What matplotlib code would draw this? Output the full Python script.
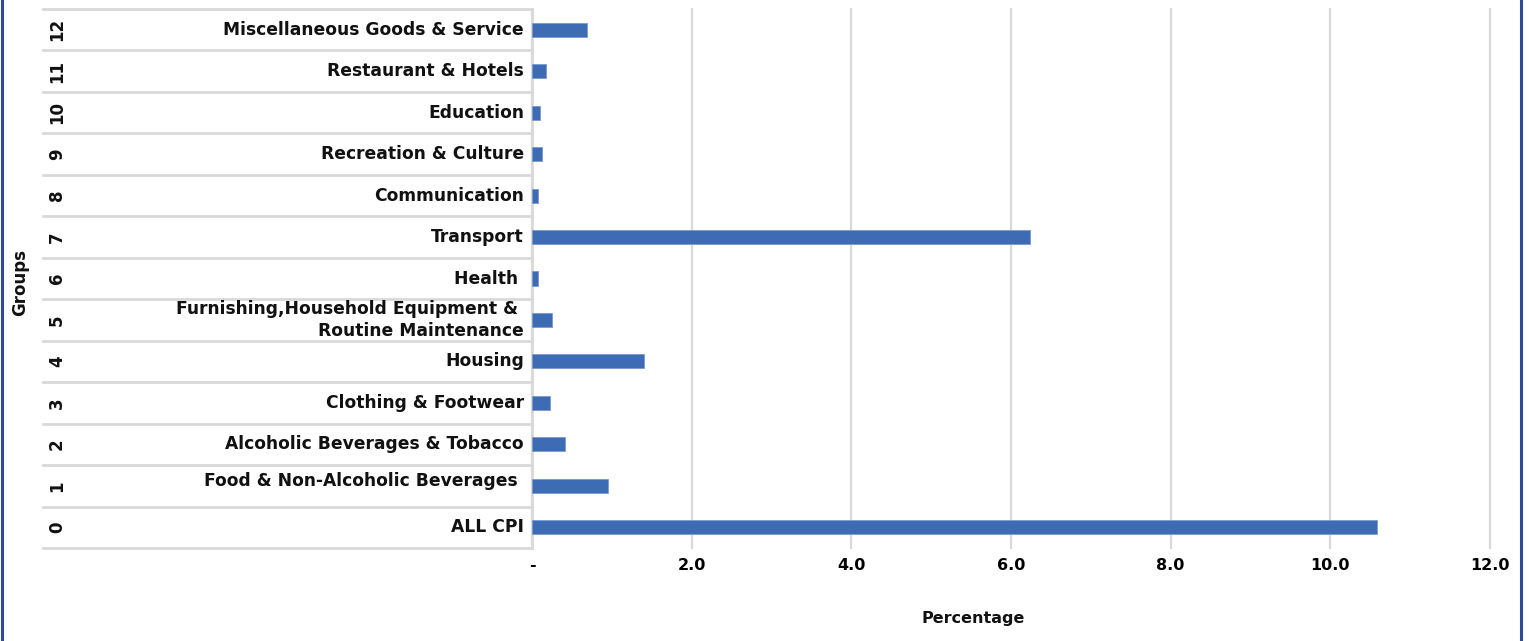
import matplotlib
matplotlib.use("Agg")
import matplotlib.pyplot as plt
from matplotlib.lines import Line2D
from matplotlib.transforms import blended_transform_factory
from matplotlib.ticker import FuncFormatter

# CPI group contributions (percentage), group 0 = ALL CPI
group_ids = [0, 1, 2, 3, 4, 5, 6, 7, 8, 9, 10, 11, 12]
group_names = [
    "ALL CPI",
    "Food & Non-Alcoholic Beverages ",
    "Alcoholic Beverages & Tobacco",
    "Clothing & Footwear",
    "Housing",
    "Furnishing,Household Equipment & \nRoutine Maintenance",
    "Health ",
    "Transport",
    "Communication",
    "Recreation & Culture",
    "Education",
    "Restaurant & Hotels",
    "Miscellaneous Goods & Service",
]
values = [10.59, 0.95, 0.41, 0.23, 1.40, 0.25, 0.08, 6.24, 0.08, 0.12, 0.10, 0.18, 0.69]
x_ticks = [0, 2, 4, 6, 8, 10, 12]

W, H = 1529, 641
fig = plt.figure(figsize=(W / 100, H / 100), dpi=100)
fig.patch.set_facecolor("white")

left_px, right_px, top_px, bot_px = 532, 1490, 9, 548
ax = fig.add_axes([left_px / W, 1 - bot_px / H, (right_px - left_px) / W, (bot_px - top_px) / H])

grid_c = "#D9D9D9"
bar_c = "#3D6CB4"

ax.barh(group_ids, values, height=0.34, color=bar_c, edgecolor="#7A9BD3", linewidth=0.6, zorder=3)

ax.set_xlim(0, 12)
ax.set_ylim(-0.5, len(group_ids) - 0.5)
ax.set_xticks(x_ticks)
ax.xaxis.set_major_formatter(FuncFormatter(lambda v, p: "-" if v == 0 else f"{v:.1f}"))
ax.tick_params(axis="x", length=0, pad=7, labelsize=11.5)
for lbl in ax.get_xticklabels():
    lbl.set_fontweight("bold")
ax.set_yticks([])
ax.grid(axis="x", color=grid_c, linewidth=1.6, zorder=0)
for gl in ax.get_xgridlines():
    gl.set_clip_on(False)
for s in ["top", "right", "bottom"]:
    ax.spines[s].set_visible(False)
ax.spines["left"].set_color(grid_c)
ax.spines["left"].set_linewidth(2)

# two-level category table on the left
trans = blended_transform_factory(ax.transAxes, ax.transData)
x_table = (43 - left_px) / (right_px - left_px)
for k in range(len(group_ids) + 1):
    ax.add_line(Line2D([x_table, 0], [k - 0.5, k - 0.5], transform=trans,
                       color=grid_c, linewidth=2, clip_on=False, zorder=1))

x_name = (524 - left_px) / (right_px - left_px)
x_num = (57 - left_px) / (right_px - left_px)
for gid, name in zip(group_ids, group_names):
    dy = 0.12 if gid == 1 else 0.0
    ax.text(x_name, gid + dy, name, transform=trans, ha="right", va="center",
            fontsize=12.3, fontweight="bold", color="#111111", linespacing=1.25)
    ax.text(x_num, gid, str(gid), transform=trans, ha="center", va="center",
            rotation=90, fontsize=12, fontweight="bold", color="#111111")

fig.text(20 / W, 1 - 283 / H, "Groups", rotation=90, ha="center", va="center",
         fontsize=12, fontweight="bold", color="#111111")
fig.text(973 / W, 1 - 619 / H, "Percentage", ha="center", va="center",
         fontsize=11.5, fontweight="bold", color="#111111")

# outer frame lines
border_c = "#2E4A9B"
fig.add_artist(Line2D([2 / W, 2 / W], [0, 1], transform=fig.transFigure, color=border_c, linewidth=2.2))
fig.add_artist(Line2D([1521 / W, 1521 / W], [0, 1], transform=fig.transFigure, color=border_c, linewidth=2.2))

fig.savefig("out.png", dpi=100, facecolor="white")
